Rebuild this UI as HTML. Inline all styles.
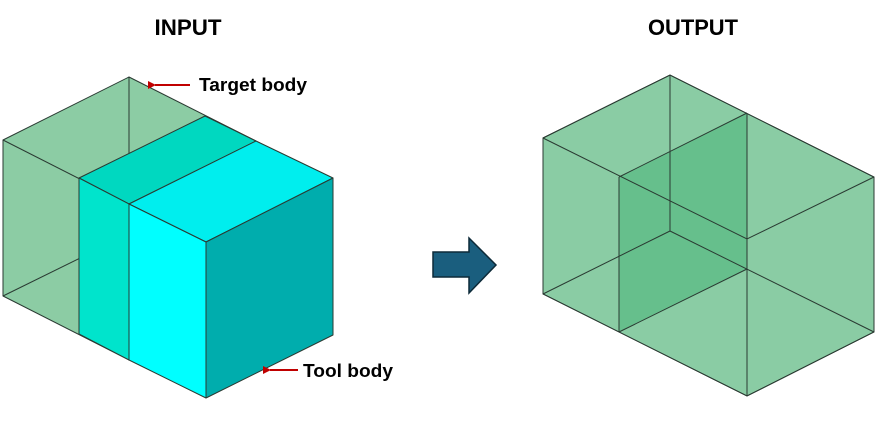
<!DOCTYPE html>
<html><head><meta charset="utf-8"><style>
html,body{margin:0;padding:0;background:#fff;width:882px;height:442px;overflow:hidden}
text{font-family:"Liberation Sans",sans-serif;font-weight:bold;fill:#000}
</style></head><body>
<svg width="882" height="442" viewBox="0 0 882 442" xmlns="http://www.w3.org/2000/svg">
<defs><marker id="ar" markerWidth="8" markerHeight="8" refX="1" refY="4" orient="auto" markerUnits="userSpaceOnUse"><path d="M8,0 L0,4 L8,8 Z" fill="#c00000"/></marker></defs>
<text x="188" y="35" font-size="22" text-anchor="middle" textLength="67" lengthAdjust="spacingAndGlyphs">INPUT</text>
<text x="693" y="35" font-size="22" text-anchor="middle" textLength="90" lengthAdjust="spacingAndGlyphs">OUTPUT</text>
<g stroke="#2a3a32" stroke-width="1" stroke-linejoin="round">
<!-- target body -->
<polygon points="3,140 129,77 256,141 129,204 129,360 3,296" fill="#8ccca4"/>
<line x1="3" y1="140" x2="129" y2="204"/>
<line x1="129" y1="77" x2="129" y2="234"/>
<line x1="3" y1="296" x2="129" y2="234"/>
<!-- tool body -->
<polygon points="79,178 205,116 256,141 129,204" fill="#00d8c0"/>
<polygon points="129,204 256,141 333,178 206,242" fill="#00eeee"/>
<polygon points="79,178 129,204 129,360 79,334" fill="#00e4cc"/>
<polygon points="129,204 206,242 206,398 129,360" fill="#00ffff"/>
<polygon points="206,242 333,178 333,335 206,398" fill="#00adad"/>
</g>
<line x1="190" y1="85" x2="155" y2="85" stroke="#c00000" stroke-width="2" marker-end="url(#ar)"/>
<text x="199" y="91" font-size="18" textLength="108" lengthAdjust="spacingAndGlyphs">Target body</text>
<line x1="298" y1="370" x2="270" y2="370" stroke="#c00000" stroke-width="2" marker-end="url(#ar)"/>
<text x="303" y="377" font-size="18" textLength="90" lengthAdjust="spacingAndGlyphs">Tool body</text>
<!-- arrow -->
<polygon points="433,252 469,252 469,238 496,265 469,293 469,277 433,277" fill="#1a5e7e" stroke="#0d2a38" stroke-width="1.5"/>
<!-- output -->
<g stroke="#2a3a32" stroke-width="1" fill="none">
<polygon points="543,138 670,75 874,177 874,332 747,396 543,294" fill="#8acca4"/>
<polygon points="619,177 747,113 747,269 619,332" fill="#66bf8c" stroke="none"/>
<polygon points="543,138 670,75 874,177 874,332 747,396 543,294"/>
<polyline points="543,138 747,239 874,177"/>
<line x1="747" y1="113" x2="747" y2="396"/>
<line x1="670" y1="75" x2="670" y2="231"/>
<line x1="670" y1="231" x2="543" y2="294"/>
<line x1="670" y1="231" x2="874" y2="332"/>
<line x1="619" y1="177" x2="747" y2="113"/>
<line x1="619" y1="177" x2="619" y2="332"/>
<line x1="619" y1="332" x2="747" y2="269"/>
</g>
</svg>
</body></html>
